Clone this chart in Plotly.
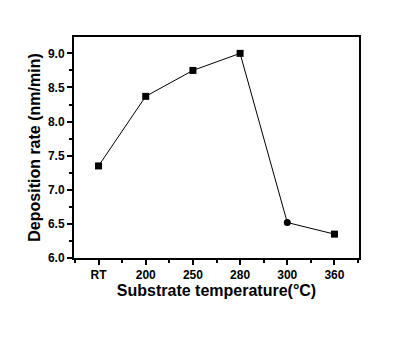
import plotly.graph_objects as go

categories = ["RT", "200", "250", "280", "300", "360"]
rates = [7.35, 8.37, 8.75, 9.0, 6.52, 6.35]
ytick_vals = [6.0, 6.5, 7.0, 7.5, 8.0, 8.5, 9.0]

xpos = list(range(len(categories)))

fig = go.Figure()
fig.add_trace(go.Scatter(
    x=xpos, y=rates, mode="lines+markers",
    line=dict(color="black", width=1),
    marker=dict(symbol=["square", "square", "square", "square", "circle", "square"],
                size=7, color="black"),
    showlegend=False,
))

font_tick = dict(family="Liberation Sans", size=12, color="black", weight=700)
font_title = dict(family="Liberation Sans", size=16, color="black", weight=700)
fig.update_layout(
    width=409, height=337,
    margin=dict(l=66, r=58, t=29, b=87),
    paper_bgcolor="white", plot_bgcolor="white",
    xaxis=dict(
        range=[-0.52, 5.52], tickmode="array", tickvals=xpos,
        ticktext=["<b>%s</b>" % c for c in categories],
        ticks="outside", ticklen=5, tickwidth=1.5, tickcolor="black",
        showline=True, linecolor="black", linewidth=2, mirror=True,
        showgrid=False, zeroline=False, tickfont=font_tick, automargin=False,
        minor=dict(tickmode="linear", tick0=0.5, dtick=1, ticks="outside", ticklen=3, tickwidth=1.5, tickcolor="black", showgrid=False),
        title=dict(text="<b>Substrate temperature(°C)</b>", font=font_title, standoff=0),
    ),
    yaxis=dict(
        range=[6.0, 9.24], tickmode="array", tickvals=ytick_vals,
        ticktext=["<b>%.1f</b>" % v for v in ytick_vals],
        ticks="outside", ticklen=5, tickwidth=1.5, tickcolor="black",
        showline=True, linecolor="black", linewidth=2, mirror=True,
        showgrid=False, zeroline=False, tickfont=font_tick, automargin=False,
        minor=dict(tickmode="linear", tick0=6.0, dtick=0.25, ticks="outside", ticklen=3, tickwidth=1.5, tickcolor="black", showgrid=False),
        title=dict(text="<b>Deposition rate (nm/min)</b>", font=font_title, standoff=3),
    ),
)

fig.write_html("out.html")
